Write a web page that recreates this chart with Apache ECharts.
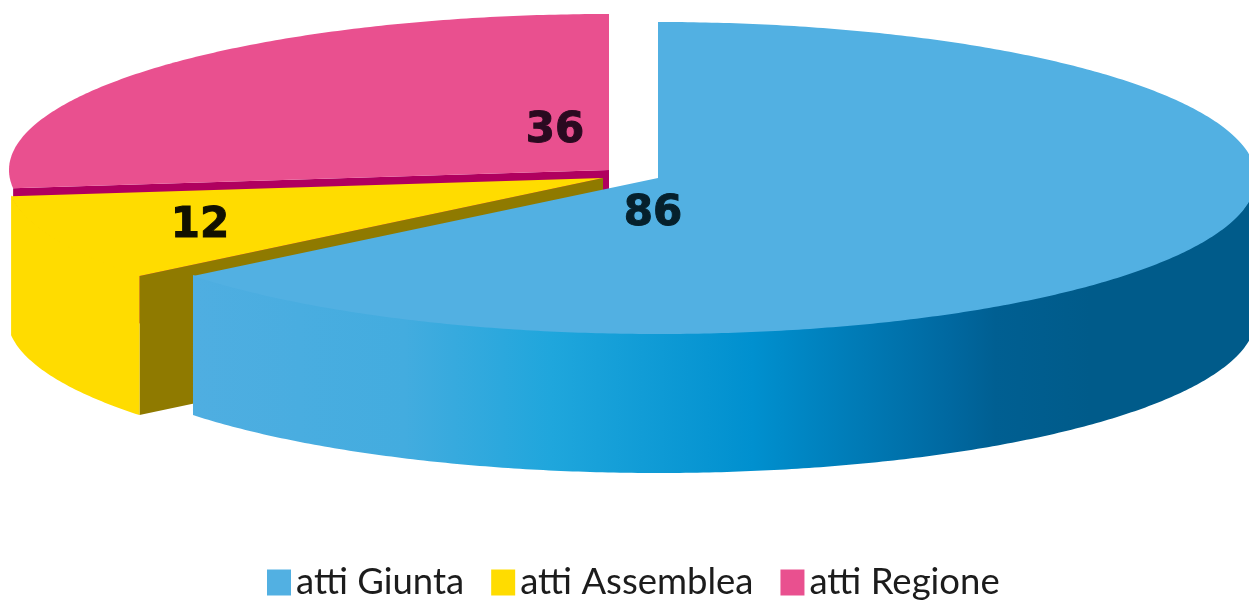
<!DOCTYPE html>
<html>
<head>
<meta charset="utf-8">
<style>html,body{margin:0;padding:0;background:#fff}#c{width:1249px;height:600px}</style>
<script src="https://cdn.jsdelivr.net/npm/echarts@6/dist/echarts.min.js"></script>
</head>
<body>
<div id="c"></div>
<script>
var categories = ['atti Giunta', 'atti Assemblea', 'atti Regione'];
var values = [86, 12, 36];
var legendOrder = ['atti Giunta', 'atti Assemblea', 'atti Regione'];

var total = values.reduce(function (a, b) { return a + b; }, 0);
var DEPTH = 139, RY = 156;
// geometry of each exploded slice: ellipse centre, radius, colours, label
var looks = [
  { cx: 658, cy: 178, rx: 598, top: '#52B0E2', wall: null, face: null, lx: 653, ly: 214, lc: '#06202c' },
  { cx: 603, cy: 178, rx: 596, top: '#FFDC00', wall: '#FFDC00', face: '#8F7A00', lx: 200, ly: 226, lc: '#111100' },
  { cx: 609, cy: 170, rx: 600, top: '#E9508F', wall: null, face: '#B0005F', lx: 555, ly: 131, lc: '#2a0a20' }
];
var blueWall = {
  type: 'linear', global: true, x: 193, y: 0, x2: 1249, y2: 0,
  colorStops: [
    { offset: 0, color: '#4FAEE1' },
    { offset: 0.2, color: '#43ACDF' },
    { offset: 0.34, color: '#1FA6DC' },
    { offset: 0.53, color: '#0090CF' },
    { offset: 0.717, color: '#0068A0' },
    { offset: 0.76, color: '#005F92' },
    { offset: 0.85, color: '#005B8A' },
    { offset: 1, color: '#005B8A' }
  ]
};

function sliceAngles(i) {
  var before = 0;
  for (var k = 0; k < i; k++) before += values[k];
  var a0 = -Math.PI / 2 + before / total * 2 * Math.PI;
  var a1 = a0 + values[i] / total * 2 * Math.PI;
  return [a0, a1];
}
function pt(l, t, dy) {
  return [l.cx + l.rx * Math.cos(t), l.cy + RY * Math.sin(t) + (dy || 0)];
}
function arc(l, a0, a1, dy) {
  var n = Math.max(4, Math.ceil(Math.abs(a1 - a0) / 0.01)), out = [];
  for (var j = 0; j <= n; j++) out.push(pt(l, a0 + (a1 - a0) * j / n, dy));
  return out;
}

function makeRender(i) {
  return function () {
    var l = looks[i], ang = sliceAngles(i), a0 = ang[0], a1 = ang[1], kids = [];
    var start = pt(l, a0);
    // inner cut face on the side turned to the viewer
    if (l.face) {
      kids.push({
        type: 'polygon',
        z2: 1,
        shape: { points: [[l.cx, l.cy], start, [start[0], start[1] + DEPTH], [l.cx, l.cy + DEPTH]] },
        style: { fill: l.face }
      });
    }
    // outer wall (front half only)
    var w0 = Math.max(a0, 0), w1 = Math.min(a1, Math.PI);
    if (l.wall !== null || i === 0) {
      var top = arc(l, w0, w1, -1), bot = arc(l, w1, w0, DEPTH);
      kids.push({
        type: 'polygon',
        z2: 2,
        shape: { points: top.concat(bot) },
        style: { fill: i === 0 ? blueWall : l.wall }
      });
    }
    // top surface
    kids.push({
      type: 'polygon',
      z2: 3,
      shape: { points: [[l.cx, l.cy]].concat(arc(l, a0, a1, 0)) },
      style: { fill: l.top }
    });
    // value
    kids.push({
      type: 'text',
      z2: 10,
      style: {
        x: l.lx, y: l.ly, text: String(values[i]),
        fill: l.lc, stroke: l.lc, lineWidth: 1, align: 'center', verticalAlign: 'middle',
        font: 'bold 42px "DejaVu Sans"'
      }
    });
    return { type: 'group', children: kids };
  };
}

// drawn back to front
var drawOrder = [2, 1, 0];
var series = drawOrder.map(function (i, k) {
  return {
    type: 'custom',
    name: categories[i],
    coordinateSystem: 'none',
    z: 2 + k,
    silent: true,
    data: [values[i]],
    itemStyle: { color: looks[i].top },
    renderItem: makeRender(i)
  };
});

var chart = echarts.init(document.getElementById('c'), null, { renderer: 'canvas' });
chart.setOption({
  animation: false,
  backgroundColor: '#fff',
  legend: {
    data: legendOrder,
    left: 267,
    top: 564,
    padding: 0,
    icon: 'rect',
    itemWidth: 24,
    itemHeight: 26,
    itemGap: 27,
    selectedMode: false,
    textStyle: { fontFamily: 'Lato', fontSize: 36.5, color: '#1c1c1c' }
  },
  series: series
});
</script>
</body>
</html>
